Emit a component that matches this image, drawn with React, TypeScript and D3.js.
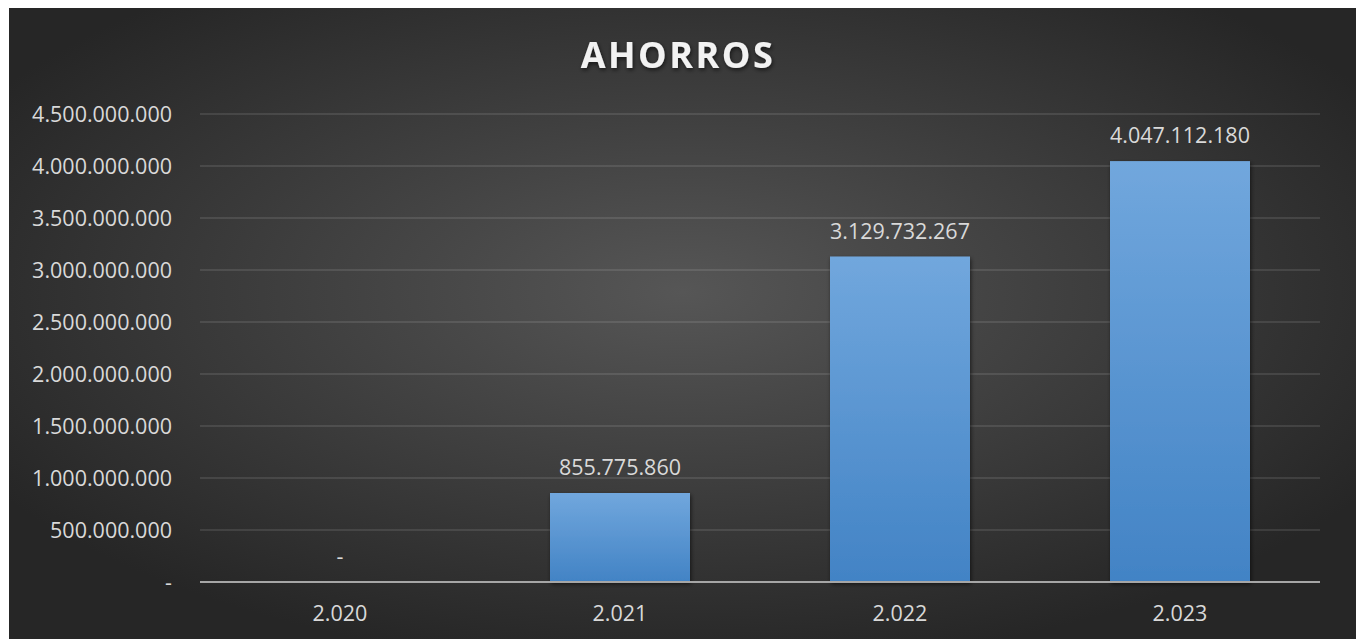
import { useEffect, useRef } from 'react'
import * as d3 from 'd3'

const years = ['2.020', '2.021', '2.022', '2.023']
const savings = [0, 855775860, 3129732267, 4047112180]
const yTicks = [0, 500000000, 1000000000, 1500000000, 2000000000, 2500000000, 3000000000, 3500000000, 4000000000, 4500000000]

const fmt = (v: number) => (v === 0 ? '-' : d3.format(',')(v).replace(/,/g, '.'))

export default function App() {
  const svgRef = useRef<SVGSVGElement>(null)

  useEffect(() => {
    if (!svgRef.current) return
    const width = 1356
    const height = 639
    const svg = d3.select(svgRef.current)
    svg.selectAll('*').remove()
    svg.attr('width', width).attr('height', height)

    const defs = svg.append('defs')
    const bg = defs.append('radialGradient').attr('id', 'bg').attr('cx', '0.5').attr('cy', '0.45').attr('r', '0.6')
    bg.append('stop').attr('offset', '0%').attr('stop-color', '#565656')
    bg.append('stop').attr('offset', '100%').attr('stop-color', '#262626')

    const barGrad = defs.append('linearGradient').attr('id', 'bar').attr('x1', 0).attr('y1', 0).attr('x2', 0).attr('y2', 1)
    barGrad.append('stop').attr('offset', '0%').attr('stop-color', '#71a7dd')
    barGrad.append('stop').attr('offset', '100%').attr('stop-color', '#4283c5')

    const shadow = defs.append('filter').attr('id', 'shadow').attr('x', '-20%').attr('y', '-20%').attr('width', '140%').attr('height', '140%')
    shadow.append('feDropShadow').attr('dx', 1).attr('dy', 2).attr('stdDeviation', 2).attr('flood-color', '#000').attr('flood-opacity', 0.6)

    svg.append('rect').attr('width', width).attr('height', height).attr('fill', '#fff')
    svg.append('rect').attr('x', 9).attr('y', 8).attr('width', width - 9).attr('height', height - 8).attr('fill', 'url(#bg)')

    const x = d3.scaleBand().domain(years).range([200, 1320]).paddingInner(0.5).paddingOuter(0.25)
    const y = d3.scaleLinear().domain([0, 4500000000]).range([582, 114])

    const font = "'Open Sans', sans-serif"
    const fontSize = '21.5px'

    // grid
    svg.append('g')
      .selectAll('line')
      .data(yTicks.slice(1))
      .enter()
      .append('line')
      .attr('x1', 200)
      .attr('x2', 1320)
      .attr('y1', d => y(d))
      .attr('y2', d => y(d))
      .attr('stroke', '#ffffff')
      .attr('stroke-opacity', 0.1)
      .attr('stroke-width', 2)

    // y labels
    svg.append('g')
      .selectAll('text')
      .data(yTicks)
      .enter()
      .append('text')
      .attr('x', 172)
      .attr('y', d => y(d))
      .attr('dy', '0.35em')
      .attr('text-anchor', 'end')
      .style('font-family', font)
      .style('font-size', fontSize)
      .style('fill', '#d9d9d9')
      .text(d => fmt(d))

    // bars
    svg.append('g')
      .selectAll('rect')
      .data(savings)
      .enter()
      .append('rect')
      .attr('x', (_, i) => x(years[i]) || 0)
      .attr('y', d => y(d))
      .attr('width', x.bandwidth())
      .attr('height', d => 582 - y(d))
      .attr('fill', 'url(#bar)')
      .attr('filter', 'url(#shadow)')

    // axis line
    svg.append('line')
      .attr('x1', 200).attr('x2', 1320)
      .attr('y1', 582).attr('y2', 582)
      .attr('stroke', '#a6a6a6').attr('stroke-width', 2)

    // value labels
    svg.append('g')
      .selectAll('text')
      .data(savings)
      .enter()
      .append('text')
      .attr('x', (_, i) => (x(years[i]) || 0) + x.bandwidth() / 2)
      .attr('y', d => y(d) - 18)
      .attr('text-anchor', 'middle')
      .style('font-family', font)
      .style('font-size', fontSize)
      .style('fill', '#d9d9d9')
      .text(d => fmt(d))

    // x labels
    svg.append('g')
      .selectAll('text')
      .data(years)
      .enter()
      .append('text')
      .attr('x', d => (x(d) || 0) + x.bandwidth() / 2)
      .attr('y', 621)
      .attr('text-anchor', 'middle')
      .style('font-family', font)
      .style('font-size', fontSize)
      .style('fill', '#d9d9d9')
      .text(d => d)

    // title
    svg.append('text')
      .attr('x', 678)
      .attr('y', 68)
      .attr('text-anchor', 'middle')
      .attr('filter', 'url(#shadow)')
      .style('font-family', font)
      .style('font-size', '36px')
      .style('font-weight', 'bold')
      .style('letter-spacing', '2.5px')
      .style('fill', '#f2f2f2')
      .text('AHORROS')
  }, [])

  return <svg ref={svgRef} style={{ position: 'absolute', left: 0, top: 0, display: 'block' }}></svg>
}
